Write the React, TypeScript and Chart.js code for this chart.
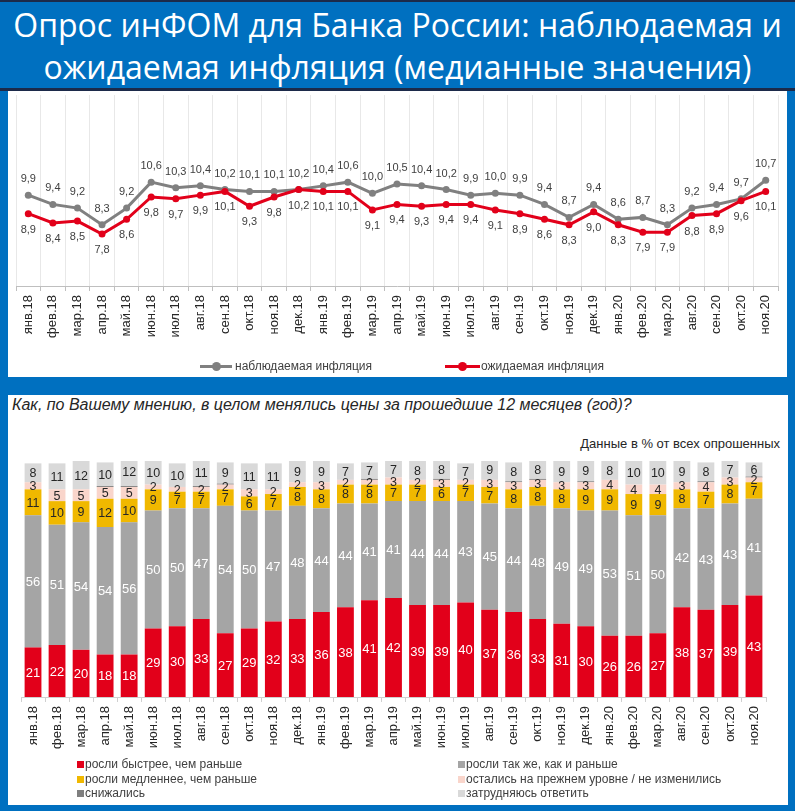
import React, { useEffect, useRef } from 'react';
import { Chart, registerables } from 'chart.js';

Chart.register(...registerables);

const months = [
  'янв.18', 'фев.18', 'мар.18', 'апр.18', 'май.18', 'июн.18', 'июл.18', 'авг.18', 'сен.18', 'окт.18', 'ноя.18', 'дек.18',
  'янв.19', 'фев.19', 'мар.19', 'апр.19', 'май.19', 'июн.19', 'июл.19', 'авг.19', 'сен.19', 'окт.19', 'ноя.19', 'дек.19',
  'янв.20', 'фев.20', 'мар.20', 'авг.20', 'сен.20', 'окт.20', 'ноя.20',
];

const observed = [9.9, 9.4, 9.2, 8.3, 9.2, 10.6, 10.3, 10.4, 10.2, 10.1, 10.1, 10.2, 10.4, 10.6, 10.0, 10.5, 10.4, 10.2, 9.9, 10.0, 9.9, 9.4, 8.7, 9.4, 8.6, 8.7, 8.3, 9.2, 9.4, 9.7, 10.7];
const expected = [8.9, 8.4, 8.5, 7.8, 8.6, 9.8, 9.7, 9.9, 10.1, 9.3, 9.8, 10.2, 10.1, 10.1, 9.1, 9.4, 9.3, 9.4, 9.4, 9.1, 8.9, 8.6, 8.3, 9.0, 8.3, 7.9, 7.9, 8.8, 8.9, 9.6, 10.1];

const fasterShare = [21, 22, 20, 18, 18, 29, 30, 33, 27, 29, 32, 33, 36, 38, 41, 42, 39, 39, 40, 37, 36, 33, 31, 30, 26, 26, 27, 38, 37, 39, 43];
const sameShare = [56, 51, 54, 54, 56, 50, 50, 47, 54, 50, 47, 48, 44, 44, 41, 41, 44, 44, 43, 45, 44, 48, 49, 49, 53, 51, 50, 42, 43, 43, 41];
const slowerShare = [11, 10, 9, 12, 10, 9, 7, 7, 7, 6, 7, 8, 8, 8, 8, 7, 7, 6, 7, 7, 8, 8, 8, 9, 9, 9, 9, 8, 7, 8, 7];
const unchangedShare = [3, 5, 5, 5, 5, 2, 2, 2, 2, 3, 2, 2, 3, 2, 2, 3, 2, 3, 2, 3, 3, 3, 3, 3, 4, 4, 4, 3, 4, 3, 2];
const decreasedShare = [0, 0, 0, 0.4, 0.4, 0, 0, 0.4, 0.4, 0, 0, 0, 0, 0, 0.4, 0, 0, 0.4, 0, 0, 0.4, 0.4, 0, 0.4, 0, 0, 0, 0, 0.4, 0, 0.4];
const hardShare = [8, 11, 12, 10, 12, 10, 10, 11, 9, 11, 11, 9, 9, 7, 7, 7, 8, 8, 7, 9, 8, 8, 9, 9, 8, 10, 10, 9, 8, 7, 6];

const seriesNames = [
  'росли быстрее, чем раньше',
  'росли так же, как и раньше',
  'росли медленнее, чем раньше',
  'остались на прежнем уровне / не изменились',
  'снижались',
  'затрудняюсь ответить',
];
const lineNames = ['наблюдаемая инфляция', 'ожидаемая инфляция'];

const FONT = '"Liberation Sans", Arial, sans-serif';
const RED = '#E2001A';
const GREY_LINE = '#808080';
const BAR_COLORS = [RED, '#A5A5A5', '#F0B800', '#F9D5CB', '#7F7F7F', '#D9D9D9'];
const BAR_LABEL_COLORS = ['#FFFFFF', '#FFFFFF', '#262626', '#262626', null, '#262626'];
const BLUE = '#0070C0';

const fmt = (v: number) => v.toFixed(1).replace('.', ',');

const lineLabelPlugin = {
  id: 'lineLabels',
  afterDatasetsDraw(chart: any) {
    const ctx = chart.ctx;
    ctx.save();
    ctx.font = `11px ${FONT}`;
    ctx.fillStyle = '#404040';
    ctx.textAlign = 'center';
    ctx.textBaseline = 'middle';
    chart.data.datasets.forEach((ds: any, di: number) => {
      const meta = chart.getDatasetMeta(di);
      meta.data.forEach((pt: any, i: number) => {
        const dy = di === 0 ? -16 : 16;
        ctx.fillText(fmt(ds.data[i]), pt.x, pt.y + dy);
      });
    });
    ctx.restore();
  },
};

const barLabelPlugin = {
  id: 'barLabels',
  afterDatasetsDraw(chart: any) {
    const ctx = chart.ctx;
    ctx.save();
    ctx.textAlign = 'center';
    ctx.textBaseline = 'middle';
    chart.data.datasets.forEach((ds: any, di: number) => {
      const color = BAR_LABEL_COLORS[di];
      if (!color) return;
      const meta = chart.getDatasetMeta(di);
      ctx.fillStyle = color;
      ctx.font = `${di < 2 ? 13 : 12.5}px ${FONT}`;
      meta.data.forEach((el: any, i: number) => {
        const v = ds.data[i];
        if (!v) return;
        const p = el.getProps(['x', 'y', 'base'], true);
        ctx.fillText(String(v), p.x, (p.y + p.base) / 2 + 1);
      });
    });
    ctx.restore();
  },
};

function LineChart() {
  const ref = useRef<HTMLCanvasElement>(null);
  useEffect(() => {
    if (!ref.current) return;
    const chart = new Chart(ref.current, {
      type: 'line',
      data: {
        labels: months,
        datasets: [
          {
            label: lineNames[0], data: observed, borderColor: GREY_LINE, backgroundColor: GREY_LINE,
            borderWidth: 3, pointRadius: 3.5, pointBorderWidth: 0, pointBackgroundColor: GREY_LINE, tension: 0, order: 2,
          },
          {
            label: lineNames[1], data: expected, borderColor: RED, backgroundColor: RED,
            borderWidth: 3, pointRadius: 3.5, pointBorderWidth: 0, pointBackgroundColor: RED, tension: 0, order: 1,
          },
        ],
      },
      options: {
        responsive: false,
        animation: false,
        layout: { padding: { left: 8, right: 9, top: 1, bottom: 31 } },
        plugins: { legend: { display: false }, tooltip: { enabled: false } },
        scales: {
          x: {
            offset: true,
            grid: { offset: true, color: '#E8E8E8', tickLength: 5, tickColor: '#BFBFBF' },
            border: { color: '#BFBFBF' },
            ticks: { autoSkip: false, minRotation: 90, maxRotation: 90, padding: 4, color: '#262626', font: { family: FONT, size: 13 } },
            afterFit: (s: any) => { s.height = 60; },
          },
          y: { display: false, min: 5, max: 15.3 },
        },
      } as any,
      plugins: [lineLabelPlugin],
    });
    return () => chart.destroy();
  }, []);
  return <canvas ref={ref} width={779} height={286} style={{ position: 'absolute', left: 8, top: 91 }} />;
}

function BarChart() {
  const ref = useRef<HTMLCanvasElement>(null);
  useEffect(() => {
    if (!ref.current) return;
    const series = [fasterShare, sameShare, slowerShare, unchangedShare, decreasedShare, hardShare];
    const chart = new Chart(ref.current, {
      type: 'bar',
      data: {
        labels: months,
        datasets: series.map((d, i) => ({
          label: seriesNames[i], data: d, backgroundColor: BAR_COLORS[i], borderWidth: 0,
          barPercentage: 0.7, categoryPercentage: 1,
        })),
      },
      options: {
        responsive: false,
        animation: false,
        layout: { padding: { left: 13, right: 22, top: 66, bottom: 50 } },
        plugins: { legend: { display: false }, tooltip: { enabled: false } },
        scales: {
          x: {
            stacked: true,
            grid: { offset: true, drawOnChartArea: false, tickLength: 5, tickColor: '#D0D0D0' },
            border: { color: '#D0D0D0' },
            ticks: { autoSkip: false, minRotation: 90, maxRotation: 90, padding: 4, color: '#262626', font: { family: FONT, size: 13 } },
            afterFit: (s: any) => { s.height = 58; },
          },
          y: { stacked: true, display: false, min: 0, max: 100 },
        },
      } as any,
      plugins: [barLabelPlugin],
    });
    return () => chart.destroy();
  }, []);
  return <canvas ref={ref} width={780} height={410} style={{ position: 'absolute', left: 8, top: 395 }} />;
}

const abs = (s: React.CSSProperties): React.CSSProperties => ({ position: 'absolute', ...s });

export default function App() {
  const legendText: React.CSSProperties = { fontFamily: FONT, fontSize: 12, color: '#404040', whiteSpace: 'nowrap', lineHeight: '14px' };
  const barLegend = [
    { i: 0, x: 77, y: 764 },
    { i: 2, x: 77, y: 779 },
    { i: 4, x: 77, y: 793 },
    { i: 1, x: 458, y: 764 },
    { i: 3, x: 458, y: 779 },
    { i: 5, x: 458, y: 793 },
  ];
  return (
    <div style={{ position: 'fixed', left: 0, top: 0, width: 795, height: 811, background: BLUE, overflow: 'hidden' }}>
      <div style={abs({ left: 0, top: 0, width: 795, height: 2, background: '#1C2A4A' })} />
      <div style={abs({ left: 0, top: 4, width: 795, textAlign: 'center', color: '#FFFFFF', fontFamily: '"Open Sans", sans-serif', fontSize: 32, lineHeight: '42px', whiteSpace: 'nowrap' })}>
        <div>Опрос инФОМ для Банка России: наблюдаемая и</div>
        <div>ожидаемая инфляция (медианные значения)</div>
      </div>
      <div style={abs({ left: 0, top: 88, width: 795, height: 3, background: '#1C2A4A' })} />
      <div style={abs({ left: 8, top: 91, width: 779, height: 286, background: '#FFFFFF' })} />
      <LineChart />
      <div style={abs({ left: 200, top: 365, width: 32, height: 3, background: GREY_LINE })} />
      <div style={abs({ left: 212, top: 362, width: 9, height: 9, borderRadius: '50%', background: GREY_LINE })} />
      <div style={abs({ ...legendText, left: 235, top: 359 })}>{lineNames[0]}</div>
      <div style={abs({ left: 445, top: 365, width: 35, height: 3, background: RED })} />
      <div style={abs({ left: 458, top: 362, width: 9, height: 9, borderRadius: '50%', background: RED })} />
      <div style={abs({ ...legendText, left: 481, top: 359 })}>{lineNames[1]}</div>

      <div style={abs({ left: 8, top: 395, width: 780, height: 410, background: '#FFFFFF' })} />
      <div style={abs({ left: 12, top: 396, fontFamily: FONT, fontStyle: 'italic', fontSize: 16, color: '#262626', whiteSpace: 'nowrap', lineHeight: '18px' })}>
        Как, по Вашему мнению, в целом менялись цены за прошедшие 12 месяцев (год)?
      </div>
      <div style={abs({ right: 15, top: 436, fontFamily: FONT, fontSize: 13, color: '#262626', whiteSpace: 'nowrap', lineHeight: '16px' })}>
        Данные в % от всех опрошенных
      </div>
      <BarChart />
      {barLegend.map((b) => (
        <React.Fragment key={b.i}>
          <div style={abs({ left: b.x, top: b.y - 3, width: 7, height: 7, background: BAR_COLORS[b.i] })} />
          <div style={abs({ ...legendText, left: b.x + 8, top: b.y - 7 })}>{seriesNames[b.i]}</div>
        </React.Fragment>
      ))}
    </div>
  );
}
